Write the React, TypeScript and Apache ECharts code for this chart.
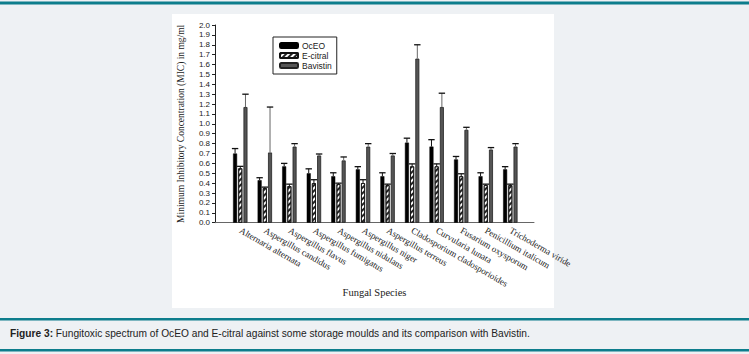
import React, { useEffect, useRef } from "react";
import * as echarts from "echarts";

const categories = [
  "Alternaria alternata",
  "Aspergillus candidus",
  "Aspergillus flavus",
  "Aspergillus fumigatus",
  "Aspergillus nidulans",
  "Aspergillus niger",
  "Aspergillus terreus",
  "Cladosporium cladosporioides",
  "Curvularia lunata",
  "Fusarium oxysporum",
  "Penicillium italicum",
  "Trichoderma viride",
];

const seriesNames = ["OcEO", "E-citral", "Bavistin"];

const ocEO = [0.7, 0.43, 0.57, 0.5, 0.47, 0.54, 0.47, 0.81, 0.77, 0.64, 0.47, 0.54];
const ocEOErr = [0.05, 0.025, 0.03, 0.045, 0.035, 0.027, 0.035, 0.045, 0.07, 0.03, 0.035, 0.027];

const eCitral = [0.55, 0.35, 0.37, 0.4, 0.39, 0.4, 0.38, 0.57, 0.57, 0.47, 0.38, 0.38];
const eCitralErr = [0.02, 0.01, 0.02, 0.035, 0.01, 0.035, 0.01, 0.025, 0.025, 0.025, 0.01, 0.01];

const bavistin = [1.17, 0.71, 0.77, 0.68, 0.63, 0.77, 0.68, 1.66, 1.17, 0.94, 0.74, 0.77];
const bavistinErr = [0.13, 0.46, 0.03, 0.015, 0.035, 0.03, 0.02, 0.14, 0.14, 0.025, 0.02, 0.03];

const yMin = 0;
const yMax = 2.0;
const yStep = 0.1;

const caption = "Fungitoxic spectrum of OcEO and E-citral against some storage moulds and its comparison with Bavistin.";

function errorSeries(name: string, vals: number[], errs: number[], offset: number, stroke: string) {
  return {
    name: name + " err",
    type: "custom",
    xAxisIndex: 1,
    yAxisIndex: 1,
    z: 5,
    silent: true,
    encode: { x: 0, y: 1 },
    data: vals.map((v, i) => [i, v, errs[i]]),
    renderItem: (params: any, api: any) => {
      const i = api.value(0);
      const v = api.value(1);
      const e = api.value(2);
      const base = api.coord([i, v]);
      const top = api.coord([i, v + e]);
      const x = base[0] + offset;
      return {
        type: "group",
        children: [
          { type: "line", shape: { x1: x, y1: base[1], x2: x, y2: top[1] }, style: { stroke, lineWidth: 1 } },
          { type: "line", shape: { x1: x - 3.2, y1: top[1], x2: x + 3.2, y2: top[1] }, style: { stroke: "#111", lineWidth: 1.3 } },
        ],
      };
    },
  };
}

export default function App() {
  const ref = useRef<HTMLDivElement>(null);
  useEffect(() => {
    if (!ref.current) return;
    const chart = echarts.init(ref.current, null, { renderer: "svg" });
    const axisTop = 25;
    const axisBottom = 354 - 222.7;
    const hatch = {
      symbol: "rect",
      symbolSize: 1,
      color: "#222",
      dashArrayX: [1, 0],
      dashArrayY: [1.2, 1.8],
      rotation: -Math.PI / 4,
    };
    const option: any = {
      animation: false,
      backgroundColor: "#eef1f4",
      graphic: [
        { type: "rect", z: -1, shape: { x: 0, y: 1.5, width: 749, height: 3 }, style: { fill: "#0d7d8c" } },
        { type: "rect", z: -1, shape: { x: 172, y: 14, width: 382, height: 294 }, style: { fill: "#ffffff" } },
        { type: "rect", z: -1, shape: { x: 0, y: 318, width: 749, height: 2.5 }, style: { fill: "#0d7d8c" } },
        { type: "rect", z: -1, shape: { x: 0, y: 349, width: 749, height: 2.5 }, style: { fill: "#0d7d8c" } },
        {
          type: "text",
          left: 10,
          top: 328,
          style: {
            text: "{b|Figure 3:} " + caption,
            font: "10.2px 'Liberation Sans', Arial, sans-serif",
            fill: "#222",
            rich: { b: { fontWeight: "bold", fontSize: 10.2, fontFamily: "'Liberation Sans', Arial, sans-serif", fill: "#222" } },
          },
        },
      ],
      legend: {
        left: 273,
        top: 37,
        orient: "vertical",
        itemWidth: 18,
        itemHeight: 5,
        itemGap: 1,
        padding: [4, 5, 4, 6],
        borderColor: "#222",
        borderWidth: 1,
        backgroundColor: "#fff",
        data: seriesNames,
        textStyle: { fontSize: 8.5, fontFamily: "'Liberation Sans', Arial, sans-serif", color: "#222", padding: [0, 0, 0, -1] },
      },
      grid: [
        { left: 215, right: 215, top: axisTop, bottom: axisBottom },
        { left: 228, right: 226.4, top: axisTop, bottom: axisBottom },
      ],
      xAxis: [
        {
          type: "value",
          gridIndex: 0,
          min: 0,
          max: 1,
          axisLine: { show: true, lineStyle: { color: "#666", width: 1 } },
          axisTick: { show: false },
          axisLabel: { show: false },
          splitLine: { show: false },
          name: "Fungal Species",
          nameLocation: "middle",
          nameGap: 64,
          nameTextStyle: { fontFamily: "'Liberation Serif', 'Times New Roman', serif", fontSize: 10.5, color: "#222" },
        },
        {
          type: "category",
          gridIndex: 1,
          data: categories,
          axisLine: { show: false },
          axisTick: { show: false },
          axisLabel: {
            interval: 0,
            rotate: -30,
            margin: 7,
            fontFamily: "'Liberation Serif', 'Times New Roman', serif",
            fontSize: 9,
            color: "#222",
          },
        },
      ],
      yAxis: [
        {
          type: "value",
          gridIndex: 0,
          min: yMin,
          max: yMax,
          interval: yStep,
          axisLine: { show: true, lineStyle: { color: "#222", width: 1 } },
          axisTick: { show: true, length: 3, lineStyle: { color: "#222" } },
          axisLabel: {
            margin: 5,
            fontSize: 8,
            fontFamily: "'Liberation Sans', Arial, sans-serif",
            color: "#222",
            formatter: (v: number) => v.toFixed(1),
          },
          splitLine: { show: false },
          name: "Minimum Inhibitory Concentration (MIC) in mg/ml",
          nameLocation: "middle",
          nameGap: 29,
          nameTextStyle: { fontFamily: "'Liberation Serif', 'Times New Roman', serif", fontSize: 9.5, color: "#222" },
        },
        {
          type: "value",
          gridIndex: 1,
          min: yMin,
          max: yMax,
          show: false,
          splitLine: { show: false },
        },
      ],
      series: [
        {
          name: seriesNames[0],
          type: "bar",
          xAxisIndex: 1,
          yAxisIndex: 1,
          barWidth: 4,
          barGap: "30%",
          data: ocEO,
          itemStyle: { color: "#000", borderColor: "#000", borderWidth: 0.5 },
        },
        {
          name: seriesNames[1],
          type: "bar",
          xAxisIndex: 1,
          yAxisIndex: 1,
          barWidth: 4,
          barGap: "30%",
          data: eCitral,
          itemStyle: { color: "#fff", borderColor: "#111", borderWidth: 0.8, decal: hatch },
        },
        {
          name: seriesNames[2],
          type: "bar",
          xAxisIndex: 1,
          yAxisIndex: 1,
          barWidth: 4,
          barGap: "30%",
          data: bavistin,
          itemStyle: { color: "#555", borderColor: "#222", borderWidth: 0.8 },
        },
        errorSeries(seriesNames[0], ocEO, ocEOErr, -5.2, "#111"),
        errorSeries(seriesNames[1], eCitral, eCitralErr, 0, "#111"),
        errorSeries(seriesNames[2], bavistin, bavistinErr, 5.2, "#666"),
      ],
    };
    chart.setOption(option);
    return () => chart.dispose();
  }, []);
  return <div ref={ref} style={{ position: "absolute", left: 0, top: 0, width: 749, height: 354 }} />;
}
